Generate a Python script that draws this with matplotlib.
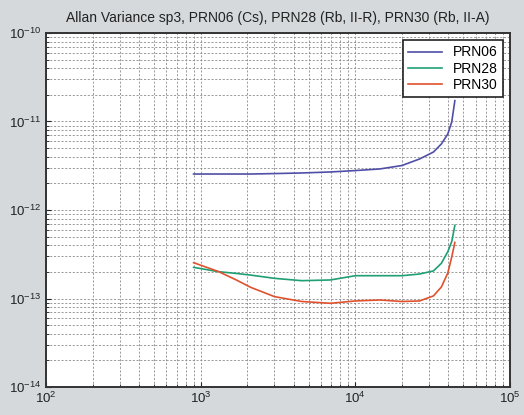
import matplotlib.pyplot as plt
import matplotlib.ticker as mticker
import numpy as np

# Allan variance of sp3 clock estimates (tau in seconds)
tau = [900, 1300, 1700, 2100, 3000, 4500, 6900, 10000, 14400, 20000,
       26000, 32000, 36000, 39600, 42000, 44000]

prn06 = [2.55e-12, 2.55e-12, 2.55e-12, 2.55e-12, 2.58e-12, 2.62e-12, 2.69e-12,
         2.79e-12, 2.91e-12, 3.18e-12, 3.77e-12, 4.52e-12, 5.57e-12, 7.22e-12,
         9.87e-12, 1.72e-11]
prn28 = [2.25e-13, 2.01e-13, 1.92e-13, 1.84e-13, 1.69e-13, 1.59e-13, 1.62e-13,
         1.81e-13, 1.81e-13, 1.81e-13, 1.89e-13, 2.05e-13, 2.50e-13, 3.38e-13,
         4.39e-13, 6.7e-13]
prn30 = [2.54e-13, 2.02e-13, 1.62e-13, 1.34e-13, 1.05e-13, 9.25e-14, 8.83e-14,
         9.38e-14, 9.62e-14, 9.25e-14, 9.38e-14, 1.07e-13, 1.35e-13, 1.94e-13,
         2.94e-13, 4.3e-13]

x_ticks = [1e2, 1e3, 1e4, 1e5]
y_ticks = [1e-14, 1e-13, 1e-12, 1e-11, 1e-10]

series = [("PRN06", prn06, "#4f4fa8"),
          ("PRN28", prn28, "#1f9f72"),
          ("PRN30", prn30, "#e0522e")]

plt.rcParams['font.family'] = ['Liberation Sans', 'DejaVu Sans']
plt.rcParams['mathtext.fontset'] = 'custom'
plt.rcParams['mathtext.rm'] = 'Liberation Sans'

fig = plt.figure(figsize=(5.24, 4.15), dpi=100, facecolor='#d5d9dc')
ax = fig.add_axes([46 / 524, 28 / 415, 464 / 524, 354 / 415])
ax.set_facecolor('white')

for name, vals, col in series:
    ax.loglog(tau, vals, color=col, lw=1.2, label=name)

ax.set_xlim(1e2, 1e5)
ax.set_ylim(1e-14, 1e-10)
ax.set_xticks(x_ticks)
ax.set_yticks(y_ticks)
ax.xaxis.set_minor_formatter(mticker.NullFormatter())
ax.yaxis.set_minor_formatter(mticker.NullFormatter())

# dotted grid on every decade and subdivision
ax.grid(True, which='both', color='#8a8a8a', lw=0.6, linestyle=(0, (2.5, 2)))
ax.tick_params(which='both', direction='in', labelsize=9.5, colors='#222222')
ax.tick_params(axis='x', pad=3)
for s in ax.spines.values():
    s.set_linewidth(1.4)
    s.set_color('#333333')

ax.set_title("Allan Variance sp3, PRN06 (Cs), PRN28 (Rb, II-R), PRN30 (Rb, II-A)",
             fontsize=10, color='#222222', pad=8)

leg = ax.legend(loc='upper right', fontsize=10, frameon=True, fancybox=False,
                edgecolor='#222222', framealpha=1, borderaxespad=0.5,
                handlelength=2.4, labelspacing=0.15, borderpad=0.4)
leg.get_frame().set_linewidth(1.2)

fig.savefig("out.png", dpi=100, facecolor=fig.get_facecolor())
